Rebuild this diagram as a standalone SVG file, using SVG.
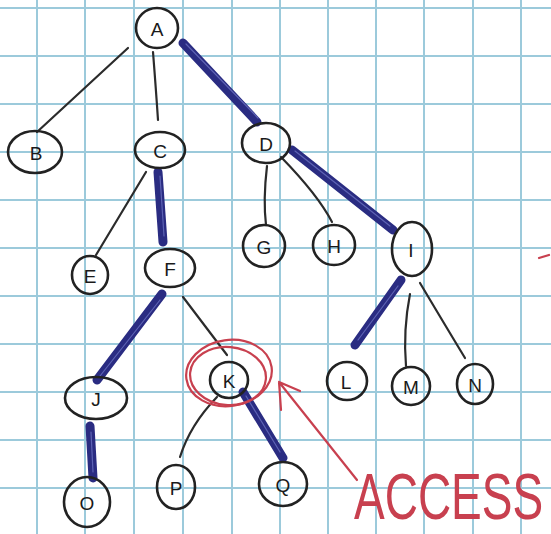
<svg xmlns="http://www.w3.org/2000/svg" width="551" height="534" viewBox="0 0 551 534">
<style>
.grid line{stroke:#9ccadb;stroke-width:2}
.node ellipse{fill:none;stroke:#222;stroke-width:2.6}
.node text{font-family:"Liberation Sans",Arial,sans-serif;font-size:19px;fill:#1a1a1a;text-anchor:middle;dominant-baseline:central}
.thin{fill:none;stroke:#2b2b2b;stroke-width:2.2;stroke-linecap:round}
.hl{fill:none;stroke:#2a2c82;stroke-width:9;stroke-linecap:round}
.hl2{fill:none;stroke:#6a70c0;stroke-width:1.2;stroke-linecap:round;opacity:0.8}
.red{fill:none;stroke:#c8404f;stroke-width:2.2;stroke-linecap:round}
</style>
<rect width="551" height="534" fill="#ffffff"/>
<g class="grid">
<line x1="37" y1="0" x2="37" y2="534"/><line x1="85" y1="0" x2="85" y2="534"/><line x1="134" y1="0" x2="134" y2="534"/><line x1="183" y1="0" x2="183" y2="534"/><line x1="232" y1="0" x2="232" y2="534"/><line x1="280" y1="0" x2="280" y2="534"/><line x1="328" y1="0" x2="328" y2="534"/><line x1="376" y1="0" x2="376" y2="534"/><line x1="424" y1="0" x2="424" y2="534"/><line x1="473" y1="0" x2="473" y2="534"/><line x1="521" y1="0" x2="521" y2="534"/>
<line x1="0" y1="8" x2="551" y2="8"/><line x1="0" y1="56" x2="551" y2="56"/><line x1="0" y1="104" x2="551" y2="104"/><line x1="0" y1="152" x2="551" y2="152"/><line x1="0" y1="200" x2="551" y2="200"/><line x1="0" y1="248" x2="551" y2="248"/><line x1="0" y1="296" x2="551" y2="296"/><line x1="0" y1="344" x2="551" y2="344"/><line x1="0" y1="392" x2="551" y2="392"/><line x1="0" y1="440" x2="551" y2="440"/><line x1="0" y1="488" x2="551" y2="488"/>
</g>
<g id="connectors">
<path class="thin" d="M128,48 L37,132"/>
<path class="thin" d="M153,52 Q156,90 158,120"/>
<path class="thin" d="M146,172 L96,255"/>
<path class="thin" d="M267,166 Q263,200 266,225"/>
<path class="thin" d="M281,157 Q318,195 332,222"/>
<path class="thin" d="M183,297 L227,355"/>
<path class="thin" d="M217,397 Q190,425 180,457"/>
<path class="thin" d="M410,294 Q403,330 406,366"/>
<path class="thin" d="M420,283 Q445,325 465,358"/>
<path class="hl" d="M183,43 L257,122"/><path class="hl2" d="M186,44 L258,118"/>
<path class="hl" d="M292,150 L393,230"/><path class="hl2" d="M295,151 L390,226"/>
<path class="hl" d="M158,172 L163,242"/><path class="hl2" d="M160,176 L164,236"/>
<path class="hl" d="M162,294 L97,380"/><path class="hl2" d="M160,300 L100,376"/>
<path class="hl" d="M90,426 L93,478"/><path class="hl2" d="M91,432 L93,472"/>
<path class="hl" d="M243,392 L283,458"/><path class="hl2" d="M246,396 L280,452"/>
<path class="hl" d="M401,280 L355,345"/><path class="hl2" d="M398,286 L358,340"/>
</g>
<g id="node-A" class="node"><ellipse cx="157" cy="28" rx="21" ry="20"/><text x="157" y="29">A</text></g>
<g id="node-B" class="node"><ellipse cx="35" cy="152" rx="27" ry="21"/><text x="36" y="153">B</text></g>
<g id="node-C" class="node"><ellipse cx="160" cy="150" rx="25" ry="18"/><text x="160" y="151">C</text></g>
<g id="node-D" class="node"><ellipse cx="266" cy="143" rx="24" ry="20"/><text x="266" y="144">D</text></g>
<g id="node-E" class="node"><ellipse cx="90" cy="275" rx="18" ry="19"/><text x="90" y="276">E</text></g>
<g id="node-F" class="node"><ellipse cx="170" cy="268" rx="25" ry="19"/><text x="170" y="269">F</text></g>
<g id="node-G" class="node"><ellipse cx="264" cy="246" rx="21" ry="21"/><text x="264" y="247">G</text></g>
<g id="node-H" class="node"><ellipse cx="334" cy="245" rx="21" ry="20"/><text x="334" y="246">H</text></g>
<g id="node-I" class="node"><ellipse cx="412" cy="249" rx="20" ry="27"/><text x="411" y="250">I</text></g>
<g id="node-J" class="node"><ellipse cx="96" cy="398" rx="31" ry="21"/><text x="96" y="399">J</text></g>
<g id="node-K" class="node"><ellipse cx="229" cy="380" rx="19" ry="18"/><text x="229" y="381">K</text></g>
<g id="node-L" class="node"><ellipse cx="347" cy="381" rx="20" ry="19"/><text x="346" y="382">L</text></g>
<g id="node-M" class="node"><ellipse cx="411" cy="386" rx="19" ry="19"/><text x="411" y="387">M</text></g>
<g id="node-N" class="node"><ellipse cx="475" cy="384" rx="18" ry="20"/><text x="475" y="385">N</text></g>
<g id="node-O" class="node"><ellipse cx="87" cy="502" rx="23" ry="25"/><text x="87" y="503">O</text></g>
<g id="node-P" class="node"><ellipse cx="176" cy="487" rx="19" ry="22"/><text x="176" y="488">P</text></g>
<g id="node-Q" class="node"><ellipse cx="283" cy="484" rx="24" ry="22"/><text x="283" y="485">Q</text></g>
<g id="access">
<ellipse class="red" cx="229" cy="373" rx="43" ry="33" transform="rotate(-8 229 373)"/>
<ellipse class="red" cx="228" cy="376" rx="38" ry="29" transform="rotate(5 228 376)"/>
<path class="red" d="M357,480 L279,382 M279,382 L300,391 M279,382 L281,410"/>
<text transform="translate(354,519) scale(1,1.4)" x="0" y="0" font-family="'Liberation Sans',Arial,sans-serif" font-size="46" fill="#c8404f">ACCESS</text>
<path class="red" d="M539,258 L549,255"/>
</g>
</svg>
